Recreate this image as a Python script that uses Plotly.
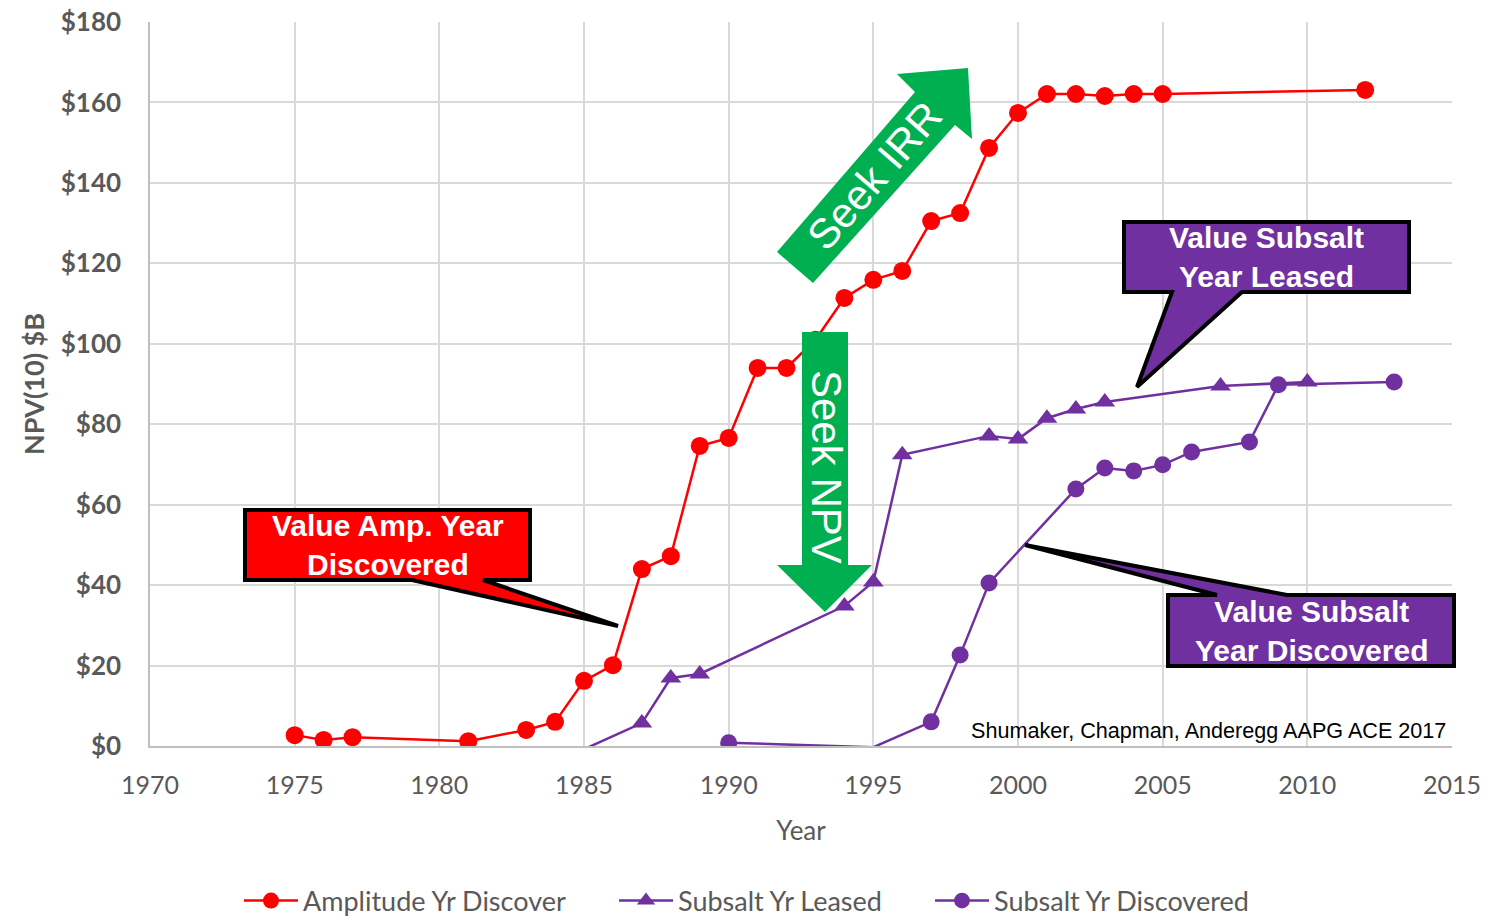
import plotly.graph_objects as go

# ---- data ----
amp_years = [1975, 1976, 1977, 1981, 1983, 1984, 1985, 1986, 1987, 1988, 1989, 1990,
             1991, 1992, 1993, 1994, 1995, 1996, 1997, 1998, 1999, 2000, 2001, 2002,
             2003, 2004, 2005, 2012]
amp_npv = [2.7, 1.5, 2.2, 1.2, 4.0, 6.0, 16.2, 20.1, 44.0, 47.2, 74.6, 76.6,
           94.0, 94.0, 101.0, 111.4, 115.9, 118.1, 130.5, 132.5, 148.7, 157.4, 162.1, 162.1,
           161.6, 162.1, 162.1, 163.1]

leased_years = [1985, 1987, 1988, 1989, 1994, 1995, 1996, 1999, 2000, 2001, 2002, 2003, 2007, 2010]
leased_npv = [-0.8, 5.7, 16.9, 17.9, 34.8, 40.8, 72.4, 77.1, 76.3, 81.5, 83.8, 85.5, 89.5, 90.5]

disc_years = [1990, 1995, 1997, 1998, 1999, 2002, 2003, 2004, 2005, 2006, 2008, 2009, 2013]
disc_npv = [0.8, -0.3, 6.0, 22.6, 40.5, 63.9, 69.1, 68.4, 69.9, 73.1, 75.6, 89.8, 90.5]

x_ticks = list(range(1970, 2016, 5))
y_ticks = list(range(0, 181, 20))
y_tick_labels = ["&#36;" + str(v) for v in y_ticks]

RED = "#FF0000"
PURPLE = "#7030A0"
GREEN = "#00B050"
GRAY = "#595959"
ARIAL = "Liberation Sans, Arial"

W, H = 1488, 920
L, R, T, B = 150, 36, 22, 174
PW, PH = W - L - R, H - T - B


def px(x):
    return (x - L) / PW


def py(y):
    return (H - B - y) / PH


def path(points):
    return "M " + " L ".join(f"{px(a):.5f},{py(b):.5f}" for a, b in points) + " Z"


def sizes(values, size):
    # markers for values below the axis minimum are not drawn
    return [size if v >= 0 else 0 for v in values]


fig = go.Figure()
fig.add_trace(go.Scatter(
    x=amp_years, y=amp_npv, name="Amplitude Yr Discover", mode="lines+markers",
    line=dict(color=RED, width=2.5), marker=dict(symbol="circle", size=18, color=RED),
    legend="legend"))
fig.add_trace(go.Scatter(
    x=leased_years, y=leased_npv, name="Subsalt Yr Leased", mode="lines+markers",
    line=dict(color=PURPLE, width=2.5),
    marker=dict(symbol="triangle-up", size=sizes(leased_npv, 18), color=PURPLE, opacity=1,
                line=dict(width=0)),
    legend="legend2"))
fig.add_trace(go.Scatter(
    x=disc_years, y=disc_npv, name="Subsalt Yr Discovered", mode="lines+markers",
    line=dict(color=PURPLE, width=2.5),
    marker=dict(symbol="circle", size=sizes(disc_npv, 17), color=PURPLE, opacity=1,
                line=dict(width=0)),
    legend="legend3"))

shapes = []
annotations = []

# green "Seek IRR" arrow (diagonal, pointing up-right)
shapes.append(dict(type="path", xref="paper", yref="paper", layer="above",
                   path=path([(777, 252), (915, 92), (897, 74), (968, 68), (972, 139),
                              (955, 125), (813, 283)]),
                   fillcolor=GREEN, line=dict(width=0)))
annotations.append(dict(xref="paper", yref="paper", x=px(875), y=py(176), text="Seek IRR",
                        xanchor="center", yanchor="middle", showarrow=False, textangle=-49,
                        font=dict(family=ARIAL, size=42, color="white")))

# green "Seek NPV" arrow (pointing down)
shapes.append(dict(type="path", xref="paper", yref="paper", layer="above",
                   path=path([(802, 332), (848, 332), (848, 565), (872, 565), (825, 612),
                              (777, 565), (802, 565)]),
                   fillcolor=GREEN, line=dict(width=0)))
annotations.append(dict(xref="paper", yref="paper", x=px(826), y=py(467), text="Seek NPV",
                        xanchor="center", yanchor="middle", showarrow=False, textangle=90,
                        font=dict(family=ARIAL, size=42, color="white")))


def callout(box, base, tip, fill, text, side="bottom"):
    x0, y0, x1, y1 = box
    b0, b1 = base
    if side == "bottom":
        pts = [(x0, y0), (x1, y0), (x1, y1), (b1, y1), tip, (b0, y1), (x0, y1)]
    else:
        pts = [(x0, y0), (b0, y0), tip, (b1, y0), (x1, y0), (x1, y1), (x0, y1)]
    shapes.append(dict(type="path", xref="paper", yref="paper", layer="above",
                       path=path(pts), fillcolor=fill, line=dict(color="black", width=4)))
    annotations.append(dict(xref="paper", yref="paper", x=px((x0 + x1) / 2), y=py((y0 + y1) / 2),
                            xanchor="center", yanchor="middle",
                            text=text, showarrow=False, align="center",
                            font=dict(family=ARIAL, size=30, color="white", weight="bold")))


callout((245, 510, 530, 580), (412, 483), (618, 626), RED, "Value Amp. Year<br>Discovered")
callout((1124, 222, 1409, 292), (1172, 1242), (1137, 387), PURPLE, "Value Subsalt<br>Year Leased")
callout((1168, 595, 1454, 666), (1217, 1287), (1025, 545), PURPLE,
        "Value Subsalt<br>Year Discovered", side="top")

annotations.append(dict(xref="paper", yref="paper", x=px(1448), y=py(730),
                        xanchor="right", yanchor="middle",
                        text="Shumaker, Chapman, Anderegg AAPG ACE 2017", showarrow=False,
                        font=dict(family=ARIAL, size=21.6, color="black")))

legend_style = dict(orientation="h", yref="container", y=(H - 901) / H, yanchor="middle",
                    xref="container", xanchor="left", font=dict(size=27, color=GRAY),
                    itemwidth=54, bgcolor="rgba(0,0,0,0)")
legend_x = [239, 614, 930]

fig.update_layout(
    width=W, height=H,
    margin=dict(l=L, r=R, t=T, b=B, autoexpand=False),
    paper_bgcolor="white", plot_bgcolor="white",
    font=dict(family="Lato, Open Sans, sans-serif", color=GRAY),
    shapes=shapes, annotations=annotations,
    showlegend=True,
    legend=dict(legend_style, x=legend_x[0] / W),
    legend2=dict(legend_style, x=legend_x[1] / W),
    legend3=dict(legend_style, x=legend_x[2] / W),
    xaxis=dict(range=[1970, 2015], tickvals=x_ticks, showgrid=True, gridcolor="#D9D9D9",
               gridwidth=1.5, showline=True, linecolor="#BFBFBF", linewidth=1.5,
               zeroline=False, tickfont=dict(size=25, color=GRAY),
               ticks="", ticklabelstandoff=16, automargin=False,
               title=dict(text="Year", font=dict(size=26, color=GRAY), standoff=24)),
    yaxis=dict(range=[0, 180], tickvals=y_ticks, ticktext=y_tick_labels, showgrid=True,
               gridcolor="#D9D9D9", gridwidth=1.5, showline=True, linecolor="#BFBFBF",
               linewidth=1.5, zeroline=False, automargin=False,
               tickfont=dict(size=26, color=GRAY, weight="bold"), ticks="",
               ticklabelstandoff=22,
               title=dict(text="NPV(10) &#36;B", font=dict(size=27, color=GRAY, weight="bold"),
                          standoff=8)),
)

fig.write_html("out.html")
